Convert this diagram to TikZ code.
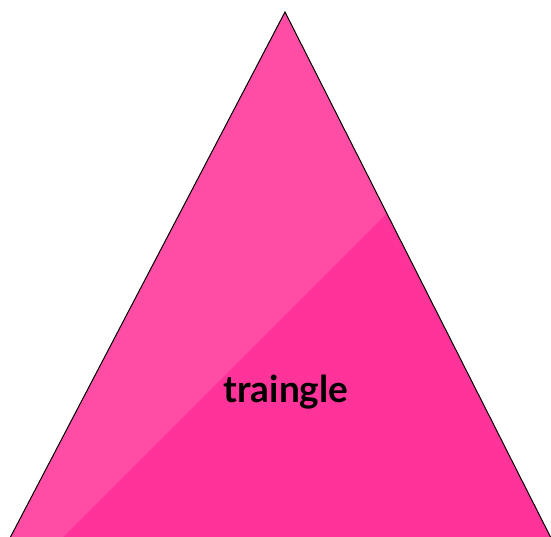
\documentclass[tikz,border=0pt]{standalone}
\usepackage{fontspec}
\setmainfont{Lato}
\usetikzlibrary{positioning}
\definecolor{tripink}{HTML}{FF3399}
\definecolor{glosspink}{HTML}{FF4DA6}
\tikzset{
  shape edge/.style={draw=black, line width=1pt, line join=miter},
  label text/.style={font=\fontsize{37}{42}\selectfont\bfseries, text=black},
}
\begin{document}
\begin{tikzpicture}[x=1pt, y=-1pt]
\useasboundingbox (0,0) rectangle (551,537);
\coordinate (top) at (285,12);
\coordinate (bl) at (10.5,537);
\coordinate (br) at (550.5,537);
% body with lighter gloss on the left
\begin{scope}
  \clip (top) -- (br) -- (bl) -- cycle;
  \fill[tripink] (0,0) rectangle (551,537);
  \fill[glosspink] (0,0) -- (600,0) -- (0,600) -- cycle;
\end{scope}
\draw[shape edge] (bl) -- (top) -- (br);
\node[label text] (name) at (286,392) {traingle};
\end{tikzpicture}
\end{document}
